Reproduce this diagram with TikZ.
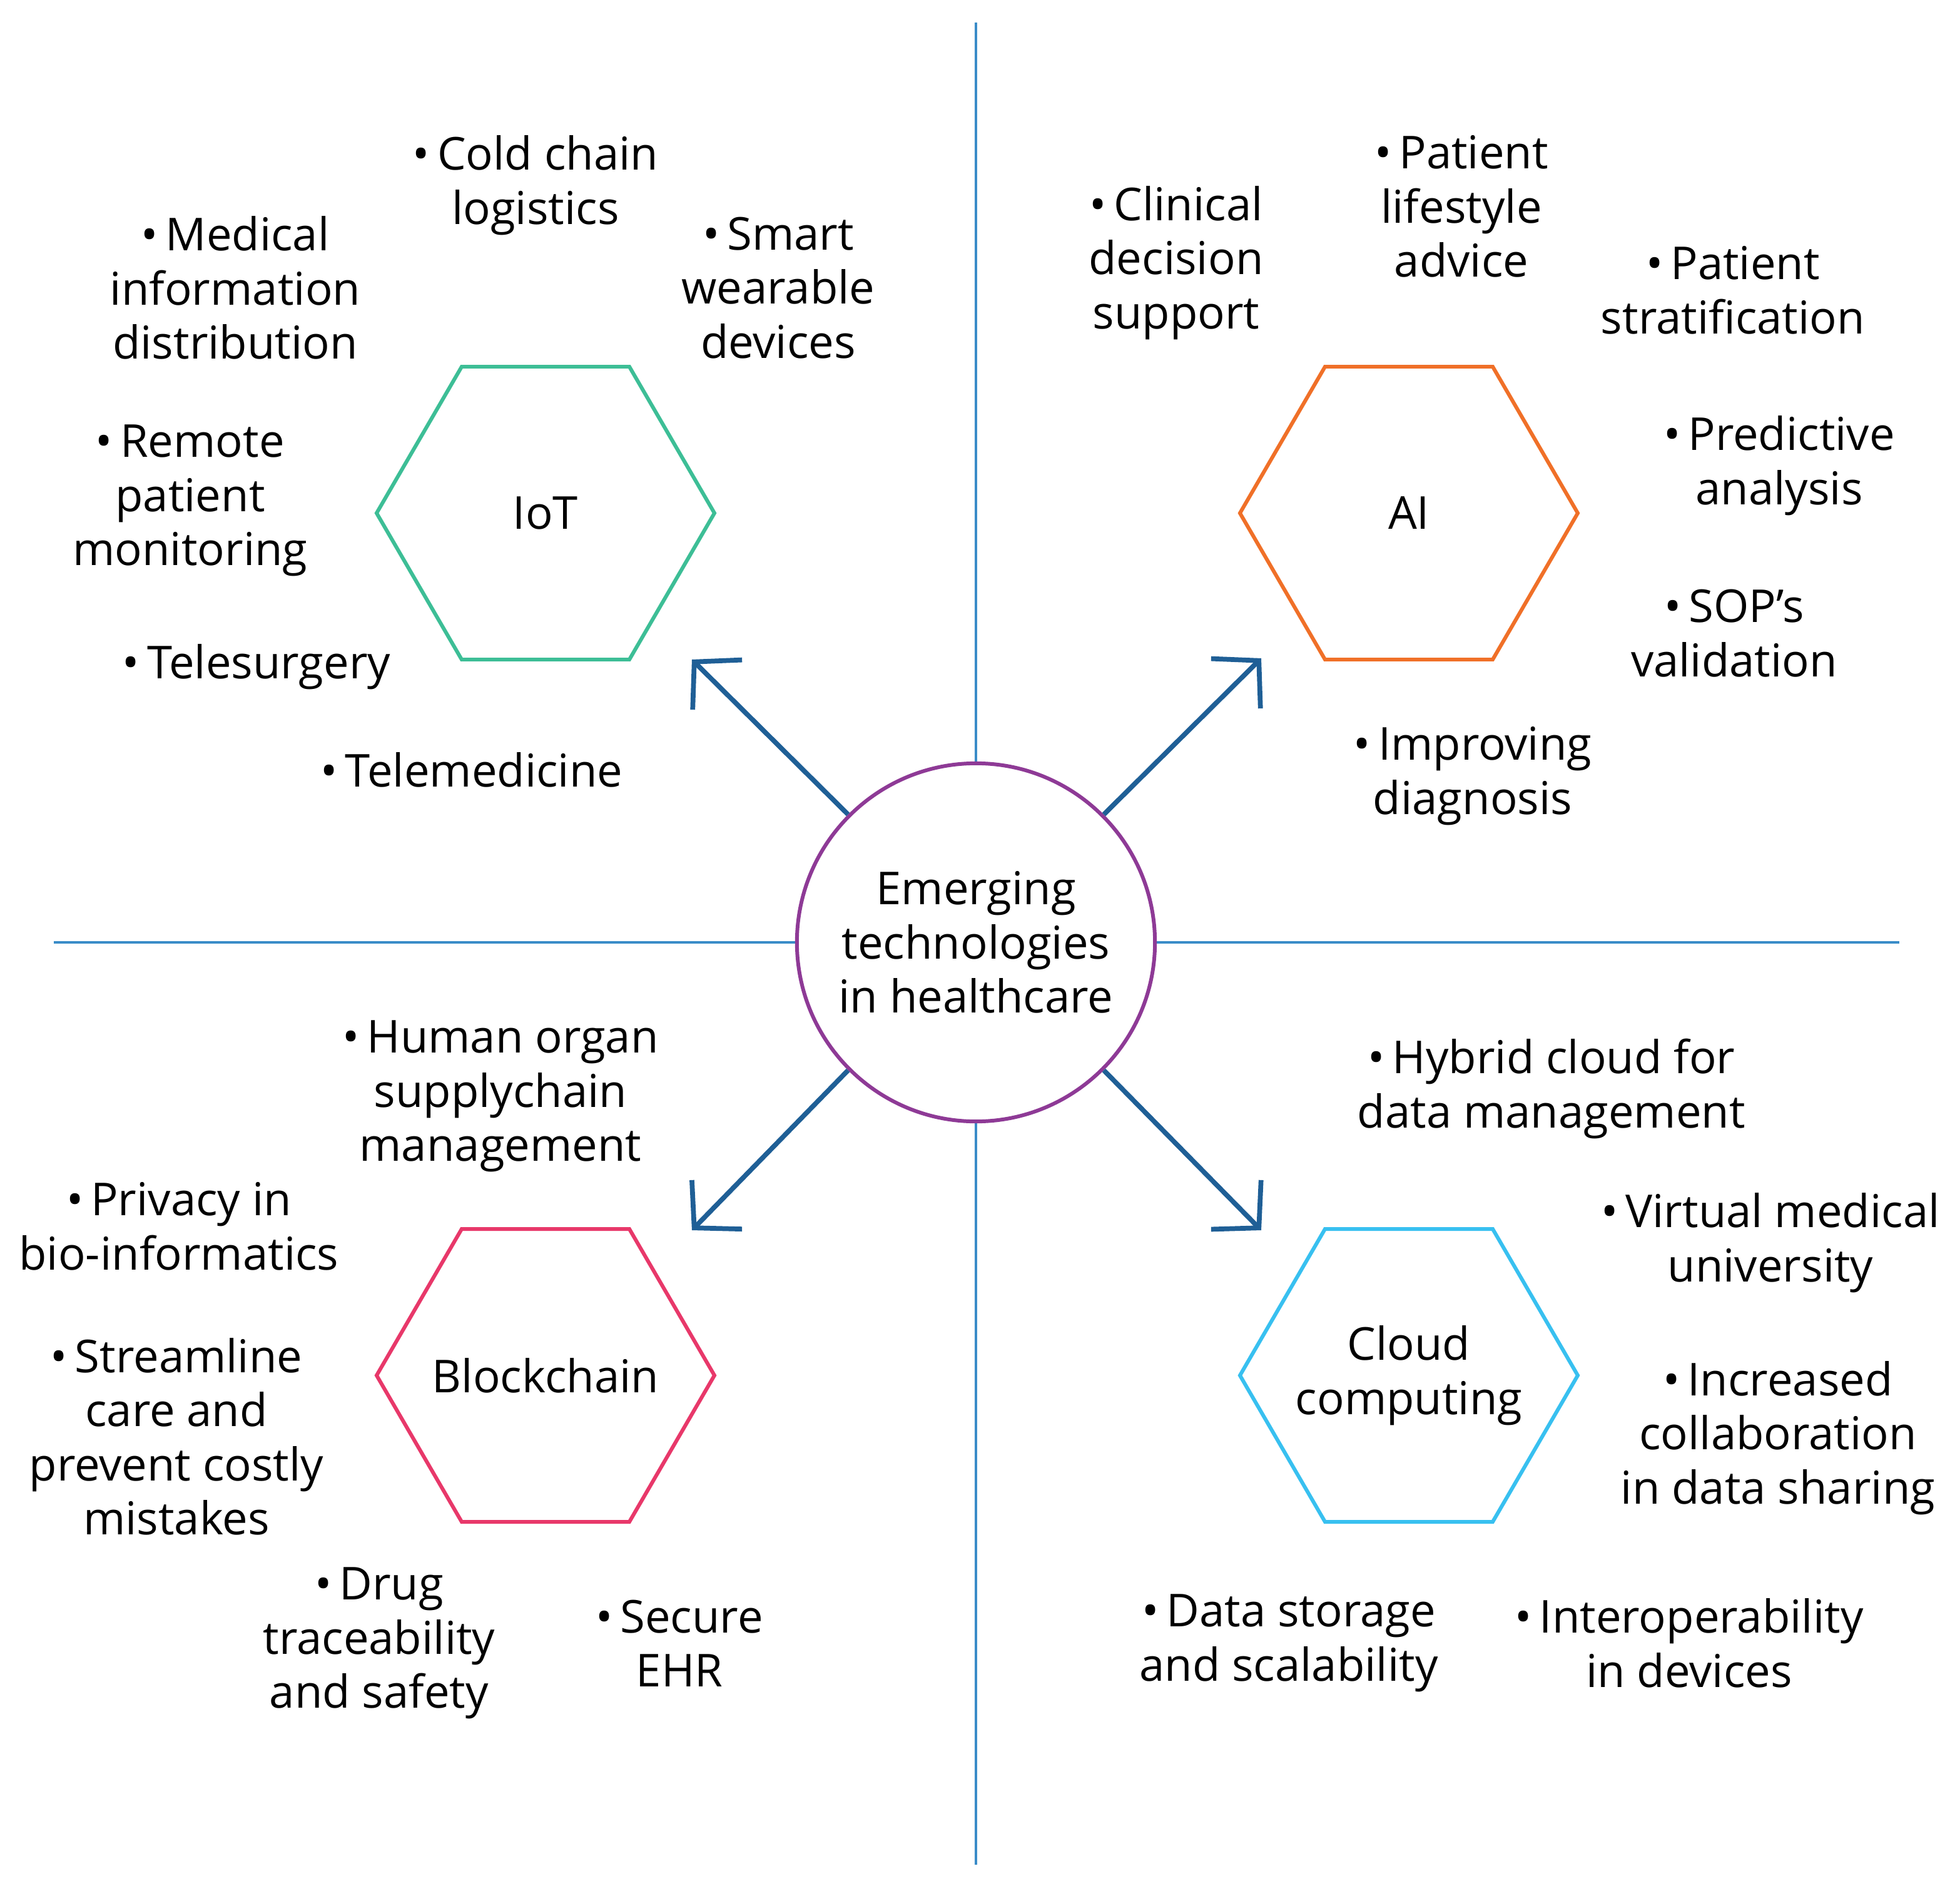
\documentclass[tikz,border=0pt]{standalone}
\usepackage{fontspec}
\setmainfont{Open Sans}
\usetikzlibrary{arrows.meta,positioning}
\definecolor{iotgreen}{HTML}{3DBE96}
\definecolor{aiorange}{HTML}{F07028}
\definecolor{bcpink}{HTML}{E8386A}
\definecolor{cloudcyan}{HTML}{38C0F0}
\definecolor{hubpurple}{HTML}{8E3A96}
\definecolor{arrowblue}{HTML}{1F5F96}
\definecolor{axisblue}{HTML}{3A8CC8}
\newcommand{\hexa}[2]{\draw[hex,#2] ($(#1)+(-135,0)$) -- ($(#1)+(-67,-117)$) -- ($(#1)+(67,-117)$) -- ($(#1)+(135,0)$) -- ($(#1)+(67,117)$) -- ($(#1)+(-67,117)$) -- cycle;}
\newcommand{\pt}{\textbullet\,}
\usetikzlibrary{calc}
\begin{document}
\begin{tikzpicture}[x=0.01cm,y=-0.01cm,
  txt/.style={align=center,font=\fontsize{10.3pt}{12.3pt}\selectfont,inner sep=0pt},
  hex/.style={line width=0.85pt},
  axis/.style={axisblue,line width=0.6pt},
  link/.style={arrowblue,line width=1.1pt,-{Straight Barb[length=2.6mm,width=5.6mm,line width=1.1pt]}}]
\useasboundingbox (0,0) rectangle (1566.5,1503);
% axes
\coordinate (top) at (780,18);
\coordinate (bot) at (780,1490);
\coordinate (lft) at (43,753);
\coordinate (rgt) at (1518,753);
\draw[axis] (top) -- (bot);
\draw[axis] (lft) -- (rgt);
% hub
\node (hub) [circle,draw=hubpurple,line width=0.85pt,fill=white,minimum size=2.86cm,txt] at (780,753) {Emerging\\technologies\\in healthcare};
% hexagons
\node (iot) [txt] at (436,410) {IoT};
\node (ai) [txt] at (1126,410) {AI};
\node (bc) [txt] at (436,1099) {Blockchain};
\node (cloud) [txt] at (1126,1099) {Cloud\\computing};
\hexa{iot}{iotgreen}
\hexa{ai}{aiorange}
\hexa{bc}{bcpink}
\hexa{cloud}{cloudcyan}
% arrows
\coordinate (iotend) at (553,527);
\coordinate (aiend) at (1008,526);
\coordinate (bcend) at (553,983);
\coordinate (cloudend) at (1008,983);
\draw[link] (hub.135) -- (iotend);
\draw[link] (hub.45) -- (aiend);
\draw[link] (hub.225) -- (bcend);
\draw[link] (hub.315) -- (cloudend);
% IoT items
\node[txt] (cold) at (428,148) {\pt Cold chain\\logistics};
\node[txt] (medinf) at (188,230) {\pt Medical\\information\\distribution};
\node[txt] (smart) at (622,230) {\pt Smart\\wearable\\devices};
\node[txt] (remote) at (152,400) {\pt Remote\\patient\\monitoring};
\node[txt] (telesurg) at (205,533) {\pt Telesurgery};
\node[txt] (telemed) at (377,615) {\pt Telemedicine};
% AI items
\node[txt] (clinical) at (940,210) {\pt Clinical\\decision\\support};
\node[txt] (lifestyle) at (1168,165) {\pt Patient\\lifestyle\\advice};
\node[txt] (strat) at (1385,232) {\pt Patient\\stratification};
\node[txt] (predict) at (1422,372) {\pt Predictive\\analysis};
\node[txt] (sop) at (1386,506) {\pt SOP's\\validation};
\node[txt] (diag) at (1177,620) {\pt Improving\\diagnosis};
% Blockchain items
\node[txt] (organ) at (400,876) {\pt Human organ\\supplychain\\management};
\node[txt] (privacy) at (143,980) {\pt Privacy in\\bio-informatics};
\node[txt] (stream) at (141,1148) {\pt Streamline\\care and\\prevent costly\\mistakes};
\node[txt] (drug) at (303,1313) {\pt Drug\\traceability\\and safety};
\node[txt] (ehr) at (543,1313) {\pt Secure\\EHR};
% Cloud items
\node[txt] (hybrid) at (1240,870) {\pt Hybrid cloud for\\data management};
\node[txt] (virtual) at (1415,993) {\pt Virtual medical\\university};
\node[txt] (collab) at (1421,1149) {\pt Increased\\collaboration\\in data sharing};
\node[txt] (storage) at (1030,1313) {\pt Data storage\\and scalability};
\node[txt] (interop) at (1350,1313) {\pt Interoperability\\in devices};
\end{tikzpicture}
\end{document}
